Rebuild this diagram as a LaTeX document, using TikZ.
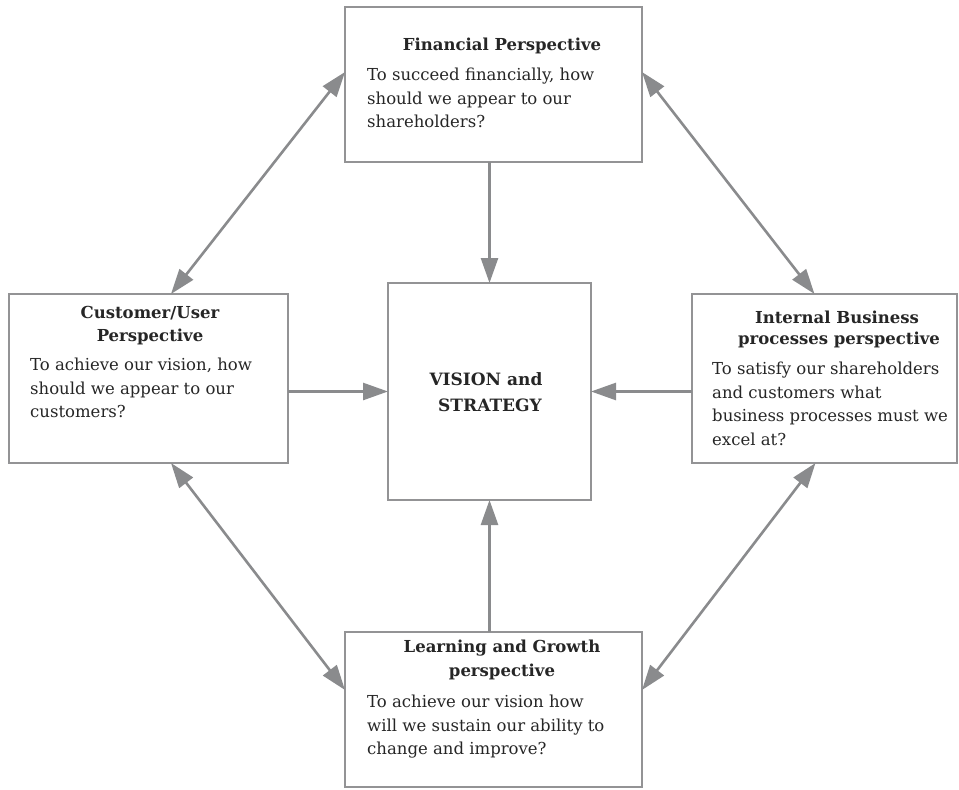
\documentclass[tikz,border=0pt]{standalone}
\usepackage{fontspec}
\setmainfont{DejaVu Serif}
\usetikzlibrary{arrows.meta}
\definecolor{linegray}{HTML}{8A8B8D}
\definecolor{boxgray}{HTML}{939395}
\definecolor{txt}{HTML}{262626}
\tikzset{
  box/.style={draw=boxgray, line width=2pt, inner sep=0pt, outer sep=0pt, anchor=north west, fill=white},
  arr/.style={draw=linegray, line width=2.6pt, -{Triangle[length=25pt,width=17pt]}},
  darr/.style={draw=linegray, line width=2.6pt, {Triangle[length=25pt,width=17pt]}-{Triangle[length=25pt,width=17pt]}},
  ttl/.style={inner sep=0pt, text=txt, font=\fontsize{16.5}{23}\selectfont\bfseries, anchor=center},
  body/.style={inner sep=0pt, text=txt, font=\fontsize{16.5}{23.5}\selectfont, anchor=north west, align=left},
  vtl/.style={inner sep=0pt, text=txt, font=\fontsize{17}{23}\selectfont\bfseries, anchor=center},
}
\begin{document}
\begin{tikzpicture}[x=1pt,y=-1pt]
\useasboundingbox (0,0) rectangle (959,790);
% boxes
\node[box, minimum width=297pt, minimum height=155pt] (fin) at (345,7) {};
\node[box, minimum width=279pt, minimum height=169pt] (cust) at (9,294) {};
\node[box, minimum width=265pt, minimum height=169pt] (int) at (692,294) {};
\node[box, minimum width=297pt, minimum height=155pt] (learn) at (345,632) {};
\node[box, minimum width=203pt, minimum height=217pt] (vis) at (388,283) {};
% texts
\node[ttl] (finT) at (502,46) {Financial Perspective};
\node[body] (finB) at (367,68) {To succeed financially, how\\should we appear to our\\shareholders?};
\node[ttl] (custT1) at (150,313) {Customer/User};
\node[ttl] (custT2) at (150,337) {Perspective};
\node[body] (custB) at (30,358) {To achieve our vision, how\\should we appear to our\\customers?};
\node[ttl] (intT1) at (837,317) {Internal Business};
\node[ttl] (intT2) at (839,340) {processes perspective};
\node[body] (intB) at (712,362) {To satisfy our shareholders\\and customers what\\business processes must we\\excel at?};
\node[ttl] (learnT1) at (502,648) {Learning and Growth};
\node[ttl] (learnT2) at (502,672) {perspective};
\node[body] (learnB) at (367,695) {To achieve our vision how\\will we sustain our ability to\\change and improve?};
\node[vtl] (visT1) at (486,379) {VISION and};
\node[vtl] (visT2) at (490,405) {STRATEGY};
% connectors
\draw[arr] (fin.south -| vis.north) -- (vis.north);
\draw[arr] (learn.north -| vis.south) -- (vis.south);
\draw[arr] (cust.east |- vis.west) -- (vis.west);
\draw[arr] (int.west |- vis.east) -- (vis.east);
\draw[darr] ([yshift=12.5pt]fin.west) -- ([xshift=22.5pt]cust.north);
\draw[darr] ([yshift=12.5pt]fin.east) -- ([xshift=-10pt]int.north);
\draw[darr] ([xshift=22.5pt]cust.south) -- ([yshift=19.5pt]learn.west);
\draw[darr] ([xshift=-9pt]int.south) -- ([yshift=19.5pt]learn.east);
\end{tikzpicture}
\end{document}
